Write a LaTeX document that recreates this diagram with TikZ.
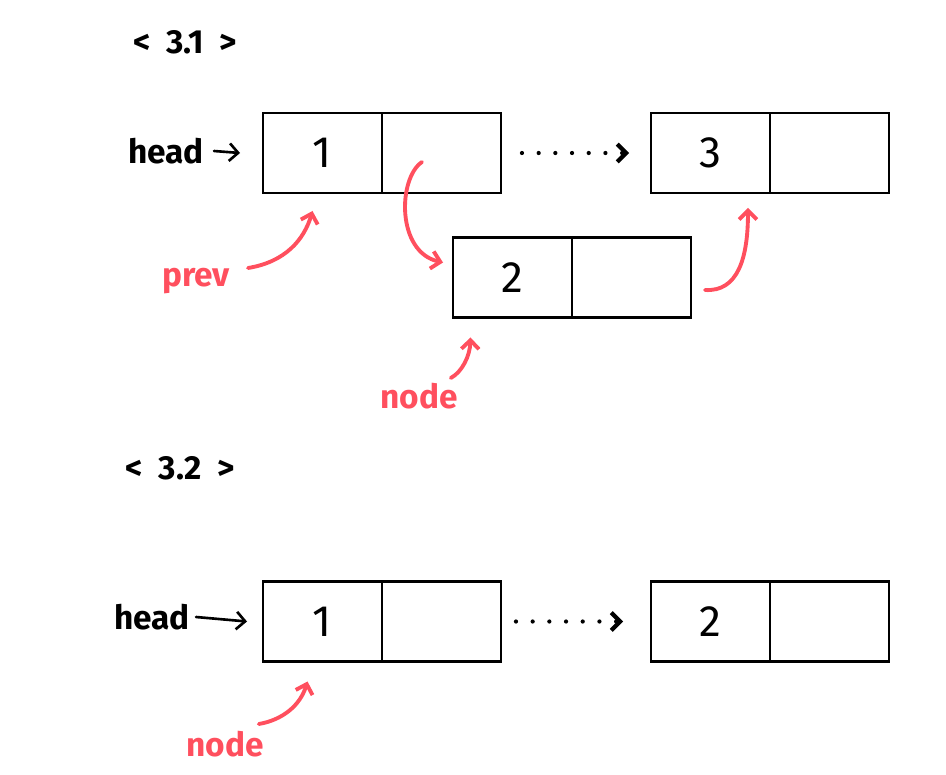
\documentclass[tikz,border=0pt]{standalone}
\usepackage{fontspec}
\setmainfont{Fira Sans}
\usetikzlibrary{positioning}
\usetikzlibrary{arrows.meta}
\definecolor{PTR-RED}{HTML}{FF4F5E}

\begin{document}
\begin{tikzpicture}[x=0.02cm,y=-0.02cm,every path/.style={>={Straight Barb[length=5pt,width=10pt]}},
	cell/.style={draw,line width=1.6pt,rectangle,outer sep=0pt,minimum width=2.38cm,minimum height=1.6cm,inner sep=0pt,font=\fontsize{25}{30}\selectfont},
	txt/.style={font=\fontsize{19}{23}\selectfont\bfseries},
	ptr/.style={->,PTR-RED,line width=2.2pt,line cap=round},
	link/.style={->,line width=1.5pt,line cap=round}]
			\useasboundingbox (0,0) rectangle (946,774);

			% draw titles
			\node[txt] (title1) at (185,42) {\textless\ \ 3.1\ \ \textgreater};
			\node[txt] (title2) at (180,468) {\textless\ \ 3.2\ \ \textgreater};

			% draw nodes of 3.1
			\node (one) at (322.5,153) [cell] {1};
			\node (oneNext) [cell,right=0pt of one] {};
			\node (three) at (710.5,153) [cell] {3};
			\node (threeNext) [cell,right=0pt of three] {};
			\node (two) at (512.5,277.5) [cell] {2};
			\node (twoNext) [cell,right=0pt of two] {};

			% draw nodes of 3.2
			\node (first) at (322.5,621.5) [cell] {1};
			\node (firstNext) [cell,right=0pt of first] {};
			\node (second) at (710.5,621.5) [cell] {2};
			\node (secondNext) [cell,right=0pt of second] {};

			% draw labels
			\node (head1) at (166,151) [txt] {head};
			\node (head2) at (152,617) [txt] {head};
			\node (prev) at (196,281) [txt,text=PTR-RED] {prev};
			\node (node1) at (419,396) [txt,text=PTR-RED] {node};
			\node (node2) at (225,744) [txt,text=PTR-RED] {node};

			% draw arrows
			\draw[link] ([xshift=0.08cm]head1.east) -- ([xshift=-0.46cm]one.west);
			\draw[link] (head2.east) -- ([xshift=-0.32cm]first.west);
			\draw[link,dash pattern=on 0pt off 9.5pt,line width=2.4pt] ([xshift=0.42cm]oneNext.east) -- ([xshift=-0.44cm]three.west);
			\draw[link,dash pattern=on 0pt off 9.5pt,line width=2.4pt] ([xshift=0.3cm]firstNext.east) -- ([xshift=-0.56cm]second.west);

			% draw pointers
			\coordinate (cut) at (422,162);
			\draw[ptr] (cut) .. controls (398,178) and (396,252) .. ([xshift=-0.2cm,yshift=0.3cm]two.west);
			\draw[ptr] ([xshift=0.28cm,yshift=-0.25cm]twoNext.east) .. controls (738,292) and (748,258) .. ([xshift=-0.44cm,yshift=-0.3cm]three.south east);
			\draw[ptr] ([xshift=0.24cm,yshift=0.26cm]prev.east) .. controls (285,262) and (304,240) .. ([xshift=-0.2cm,yshift=-0.36cm]one.south);
			\draw[ptr] ([xshift=-0.26cm,yshift=0.36cm]node1.east) .. controls (462,372) and (470,356) .. ([xshift=-0.84cm,yshift=-0.4cm]two.south);
			\draw[ptr] ([xshift=-0.22cm,yshift=0.4cm]node2.east) .. controls (282,720) and (300,706) .. ([xshift=-0.3cm,yshift=-0.4cm]first.south);
		\end{tikzpicture}
\end{document}
